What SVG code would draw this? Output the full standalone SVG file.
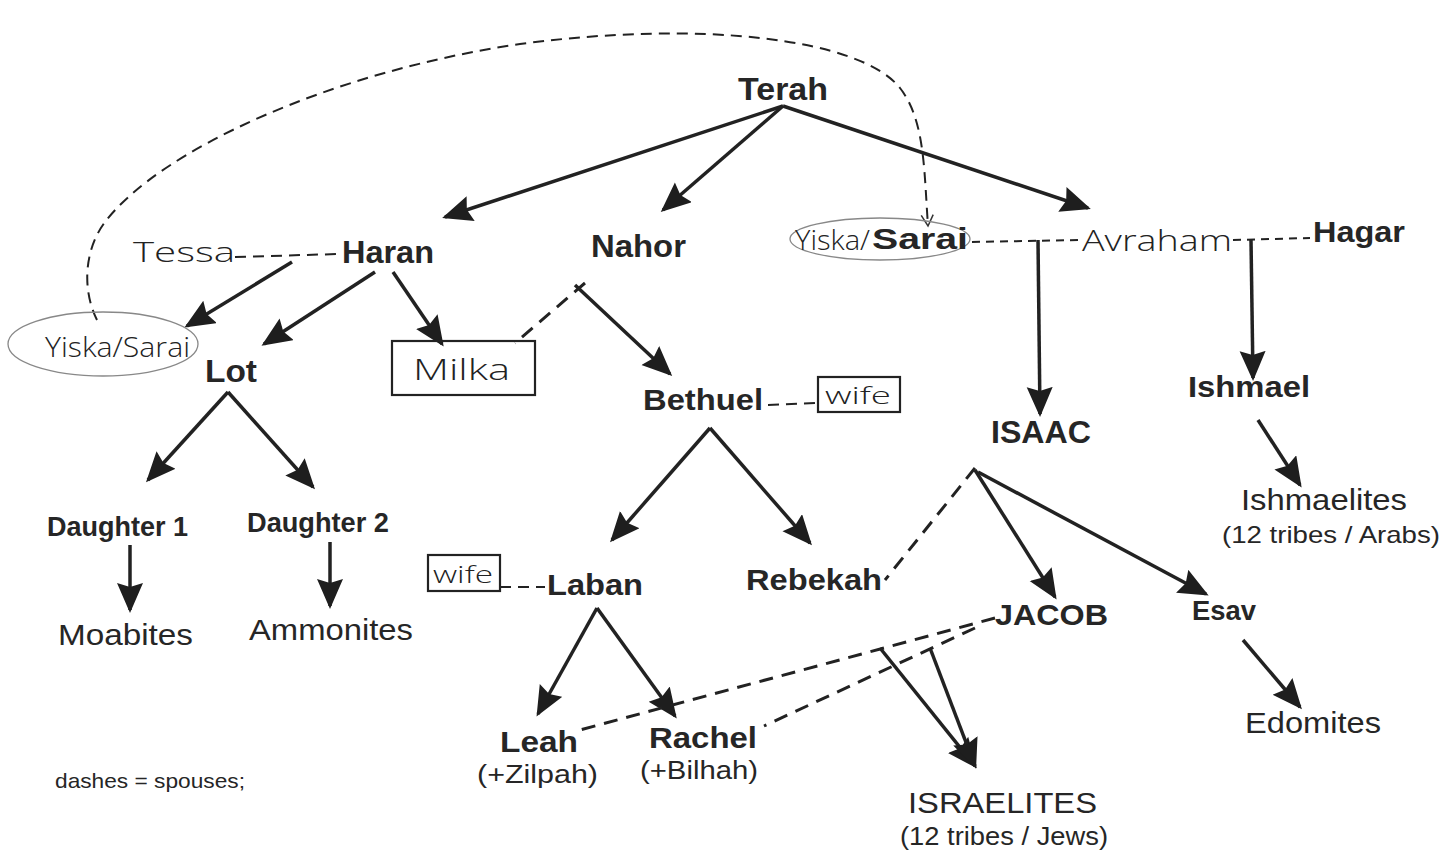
<svg xmlns="http://www.w3.org/2000/svg" width="1445" height="856" viewBox="0 0 1445 856">
<defs>
<marker id="ah" markerUnits="userSpaceOnUse" markerWidth="34" markerHeight="30" refX="27" refY="13" orient="auto"><path d="M0,0 L30,13 L0,26 L4,13 z" fill="#1e1e1e"/></marker>
<marker id="oh" markerUnits="userSpaceOnUse" markerWidth="16" markerHeight="16" refX="12" refY="7" orient="auto"><path d="M1,1 L12,7 L1,13" fill="none" stroke="#333" stroke-width="1.5"/></marker>
<style>
.b{font-family:"Liberation Sans",Arial,sans-serif;font-weight:bold;fill:#262626}
.r{font-family:"Liberation Sans",Arial,sans-serif;fill:#262626}
.h{font-family:"Open Sans","DejaVu Sans",sans-serif;font-weight:300;fill:#222}
.a{stroke:#222;stroke-width:3.5;fill:none;marker-end:url(#ah)}
.d{stroke:#222;stroke-width:3;fill:none;stroke-dasharray:14 9}
.t{stroke:#222;stroke-width:2;fill:none;stroke-dasharray:11 7}
.s{stroke:#222;stroke-width:2;fill:none;stroke-dasharray:8 6}
.box{fill:none;stroke:#222;stroke-width:2.2}
.ell{fill:none;stroke:#888;stroke-width:1.3}
</style>
</defs>
<rect width="1445" height="856" fill="#fff"/>
<g id="connectors">
<path class="t" d="M97,320 C82,290 84,250 105,222 C160,150 330,72 520,44 C700,20 860,38 900,88 C925,120 924,170 928,226" marker-end="url(#oh)"/>
<path class="a" d="M783,106 L445,217"/>
<path class="a" d="M783,106 L663,210"/>
<path class="a" d="M783,106 L1088,208"/>
<path class="t" d="M235,257 L338,254"/>
<path class="a" d="M292,262 L187,326"/>
<path class="a" d="M375,272 L264,344"/>
<path class="a" d="M393,272 L442,344"/>
<path class="d" d="M585,283 L515,343"/>
<path class="a" d="M575,285 L670,374"/>
<path class="s" d="M972,242 L1080,240"/>
<path class="a" d="M1038,240 L1040,414"/>
<path class="s" d="M1233,240 L1310,238"/>
<path class="a" d="M1251,240 L1253,378"/>
<path class="a" d="M1258,420 L1300,485"/>
<path class="a" d="M975,470 L1055,597"/>
<path class="a" d="M978,472 L1206,594"/>
<path class="d" d="M975,468 L885,580"/>
<path class="a" d="M228,392 L148,480"/>
<path class="a" d="M228,392 L313,487"/>
<path class="a" d="M130,545 L130,610"/>
<path class="a" d="M330,542 L330,606"/>
<path class="t" d="M768,405 L817,403"/>
<path class="a" d="M710,428 L612,540"/>
<path class="a" d="M710,428 L810,543"/>
<path class="t" d="M500,587 L545,587"/>
<path class="a" d="M597,608 L538,714"/>
<path class="a" d="M597,608 L675,716"/>
<path class="d" d="M995,618 L580,730"/>
<path class="d" d="M975,628 L764,726"/>
<path class="a" d="M880,648 L975,766"/>
<path class="a" d="M930,648 L975,766"/>
<path class="a" d="M1243,640 L1300,707"/>
</g>
<g id="terah"><text class="b" x="738" y="100" font-size="32" textLength="90" lengthAdjust="spacingAndGlyphs">Terah</text></g>
<g id="haran"><text class="b" x="342" y="263" font-size="32" textLength="92" lengthAdjust="spacingAndGlyphs">Haran</text></g>
<g id="nahor"><text class="b" x="591" y="257" font-size="31" textLength="95" lengthAdjust="spacingAndGlyphs">Nahor</text></g>
<g id="tessa"><text class="h" x="133" y="262" font-size="27" textLength="102" lengthAdjust="spacingAndGlyphs">Tessa</text></g>
<g id="yiska-left"><ellipse class="ell" cx="103" cy="344" rx="95" ry="32"/><text class="h" x="45" y="357" font-size="27" textLength="145" lengthAdjust="spacingAndGlyphs">Yiska/Sarai</text></g>
<g id="sarai"><ellipse class="ell" cx="880" cy="239" rx="90" ry="21"/><text class="h" x="795" y="250" font-size="27" textLength="75" lengthAdjust="spacingAndGlyphs">Yiska/</text><text class="b" x="872" y="249" font-size="30" textLength="96" lengthAdjust="spacingAndGlyphs">Sarai</text></g>
<g id="avraham"><text class="h" x="1082" y="251" font-size="30" textLength="150" lengthAdjust="spacingAndGlyphs">Avraham</text></g>
<g id="hagar"><text class="b" x="1313" y="242" font-size="29" textLength="92" lengthAdjust="spacingAndGlyphs">Hagar</text></g>
<g id="lot"><text class="b" x="205" y="382" font-size="31" textLength="52" lengthAdjust="spacingAndGlyphs">Lot</text></g>
<g id="milka"><rect class="box" x="392" y="341" width="143" height="54"/><text class="h" x="413" y="380" font-size="30" textLength="97" lengthAdjust="spacingAndGlyphs">Milka</text></g>
<g id="bethuel"><text class="b" x="643" y="410" font-size="30" textLength="120" lengthAdjust="spacingAndGlyphs">Bethuel</text></g>
<g id="bethuel-wife"><rect class="box" x="818" y="377" width="82" height="35"/><text class="h" x="825" y="404" font-size="24" textLength="66" lengthAdjust="spacingAndGlyphs">wife</text></g>
<g id="isaac"><text class="b" x="991" y="443" font-size="31" textLength="100" lengthAdjust="spacingAndGlyphs">ISAAC</text></g>
<g id="ishmael"><text class="b" x="1188" y="397" font-size="30" textLength="122" lengthAdjust="spacingAndGlyphs">Ishmael</text></g>
<g id="ishmaelites"><text class="r" x="1241" y="510" font-size="29" textLength="166" lengthAdjust="spacingAndGlyphs">Ishmaelites</text><text class="r" x="1222" y="543" font-size="24" textLength="218" lengthAdjust="spacingAndGlyphs">(12 tribes / Arabs)</text></g>
<g id="daughter1"><text class="b" x="47" y="536" font-size="27" textLength="141" lengthAdjust="spacingAndGlyphs">Daughter 1</text></g>
<g id="daughter2"><text class="b" x="247" y="532" font-size="27" textLength="142" lengthAdjust="spacingAndGlyphs">Daughter 2</text></g>
<g id="moabites"><text class="r" x="58" y="645" font-size="30" textLength="135" lengthAdjust="spacingAndGlyphs">Moabites</text></g>
<g id="ammonites"><text class="r" x="249" y="640" font-size="29" textLength="164" lengthAdjust="spacingAndGlyphs">Ammonites</text></g>
<g id="laban"><text class="b" x="547" y="595" font-size="30" textLength="96" lengthAdjust="spacingAndGlyphs">Laban</text></g>
<g id="laban-wife"><rect class="box" x="428" y="555" width="72" height="36"/><text class="h" x="433" y="583" font-size="24" textLength="60" lengthAdjust="spacingAndGlyphs">wife</text></g>
<g id="rebekah"><text class="b" x="746" y="590" font-size="29" textLength="136" lengthAdjust="spacingAndGlyphs">Rebekah</text></g>
<g id="jacob"><text class="b" x="995" y="625" font-size="30" textLength="113" lengthAdjust="spacingAndGlyphs">JACOB</text></g>
<g id="esav"><text class="b" x="1192" y="620" font-size="28" textLength="64" lengthAdjust="spacingAndGlyphs">Esav</text></g>
<g id="edomites"><text class="r" x="1245" y="733" font-size="29" textLength="136" lengthAdjust="spacingAndGlyphs">Edomites</text></g>
<g id="leah"><text class="b" x="500" y="752" font-size="30" textLength="78" lengthAdjust="spacingAndGlyphs">Leah</text><text class="r" x="477" y="783" font-size="26" textLength="121" lengthAdjust="spacingAndGlyphs">(+Zilpah)</text></g>
<g id="rachel"><text class="b" x="649" y="748" font-size="30" textLength="108" lengthAdjust="spacingAndGlyphs">Rachel</text><text class="r" x="640" y="779" font-size="26" textLength="118" lengthAdjust="spacingAndGlyphs">(+Bilhah)</text></g>
<g id="israelites"><text class="r" x="908" y="813" font-size="30" textLength="189" lengthAdjust="spacingAndGlyphs">ISRAELITES</text><text class="r" x="900" y="845" font-size="25" textLength="208" lengthAdjust="spacingAndGlyphs">(12 tribes / Jews)</text></g>
<g id="legend"><text class="r" x="55" y="788" font-size="21" textLength="190" lengthAdjust="spacingAndGlyphs">dashes = spouses;</text></g>
</svg>
